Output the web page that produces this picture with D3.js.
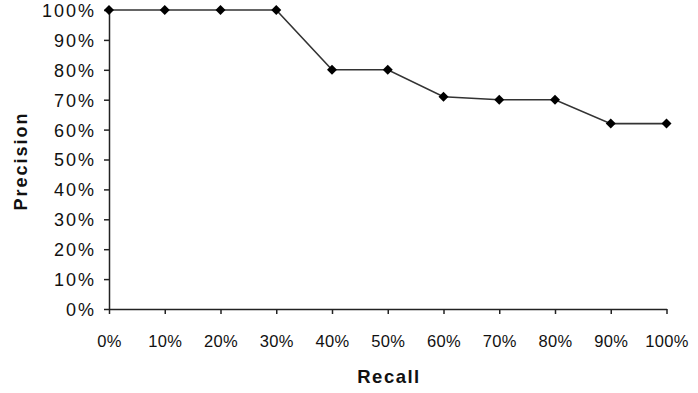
<!DOCTYPE html>
<html><head><meta charset="utf-8">
<script src="https://cdn.jsdelivr.net/npm/d3@7"></script>
<style>body{margin:0;background:#fff}svg{display:block}text{font-family:"Liberation Sans",Arial,sans-serif}</style>
</head><body>
<svg id="c" width="698" height="393"></svg>
<script>
const recall = [0,10,20,30,40,50,60,70,80,90,100];
const precision = [100,100,100,100,80,80,71,70,70,62,62];
const xTicks = [0,10,20,30,40,50,60,70,80,90,100];
const yTicks = [0,10,20,30,40,50,60,70,80,90,100];

const svg = d3.select("#c");
const x = d3.scaleLinear().domain([0,100]).range([109,666.5]);
const y = d3.scaleLinear().domain([0,100]).range([309,10]);
const ink = "#222";

const xa = svg.append("g").attr("transform","translate(0,309)")
  .call(d3.axisBottom(x).tickValues(xTicks).tickFormat(d=>d+"%").tickSize(5).tickSizeOuter(0).tickPadding(21));
const ya = svg.append("g").attr("transform","translate(109,0)")
  .call(d3.axisLeft(y).tickValues(yTicks).tickFormat(d=>d+"%").tickSize(5).tickSizeOuter(0).tickPadding(8));
[xa,ya].forEach(a=>{
  a.select(".domain").attr("stroke",ink).attr("stroke-width",1.5);
  a.selectAll(".tick line").attr("stroke",ink).attr("stroke-width",1.5);
  a.selectAll("text").attr("fill","#111").attr("font-family","'Liberation Sans',Arial,sans-serif");
});
xa.selectAll("text").attr("font-size",16.5).attr("letter-spacing",0.3);
ya.selectAll("text").attr("font-size",18).attr("letter-spacing",2).attr("dy","0.36em");

svg.append("path").datum(recall.map((r,i)=>[r,precision[i]]))
  .attr("fill","none").attr("stroke","#333").attr("stroke-width",1.6)
  .attr("d",d3.line().x(d=>x(d[0])).y(d=>y(d[1])));

svg.selectAll(".m").data(recall.map((r,i)=>[r,precision[i]])).enter()
  .append("path").attr("transform",d=>`translate(${x(d[0])},${y(d[1])})`)
  .attr("d","M0,-5L5,0L0,5L-5,0Z").attr("fill","#000");

svg.append("text").attr("x",389).attr("y",383.3).attr("text-anchor","middle")
  .attr("font-size",18.5).attr("letter-spacing",1.5).attr("font-weight","bold").attr("fill","#111").text("Recall");
svg.append("text").attr("transform","translate(27,161) rotate(-90)").attr("text-anchor","middle")
  .attr("font-size",18).attr("letter-spacing",2).attr("font-weight","bold").attr("fill","#111").text("Precision");
</script>
</body></html>
